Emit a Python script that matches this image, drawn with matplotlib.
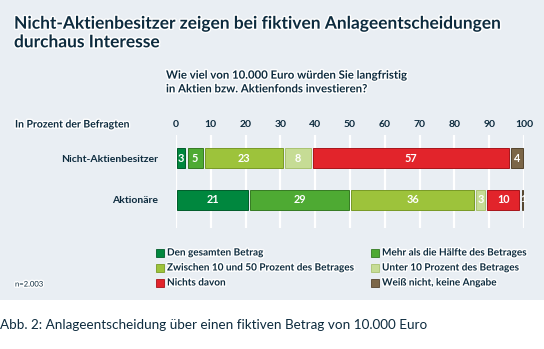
import matplotlib.pyplot as plt
import matplotlib.patheffects as pe
from matplotlib.patches import Rectangle

# Antworten in Prozent je Gruppe
gruppen = ["Nicht-Aktienbesitzer", "Aktionäre"]
kategorien = ["Den gesamten Betrag", "Mehr als die Hälfte des Betrages",
              "Zwischen 10 und 50 Prozent des Betrages", "Unter 10 Prozent des Betrages",
              "Nichts davon", "Weiß nicht, keine Angabe"]
nicht_aktienbesitzer = [3, 5, 23, 8, 57, 4]
aktionaere = [21, 29, 36, 3, 10, 1]
werte = [nicht_aktienbesitzer, aktionaere]

farben = ['#00873e', '#4eaa33', '#9dc33b', '#c6dc95', '#e2242b', '#7b6648']
kanten = ['#005c2a', '#357a22', '#789a25', '#a9c270', '#a8141a', '#54432c']
navy = '#0d2b3e'
halo = [pe.withStroke(linewidth=2, foreground='white')]

plt.rcParams['font.family'] = ['Lato', 'DejaVu Sans']

fig = plt.figure(figsize=(5.44, 3.49), dpi=100)
fig.patch.set_facecolor('white')
fig.patches.append(Rectangle((0, 1 - 300 / 349), 1, 300 / 349, transform=fig.transFigure,
                             facecolor='#e9eef3', edgecolor='none', zorder=-10))

ax = fig.add_axes([176 / 544, 1 - 228 / 349, 348 / 544, 93 / 349])
ax.set_facecolor('none')
ax.set_xlim(0, 100)
ax.set_ylim(1.667, -0.548)
for s in ax.spines.values():
    s.set_visible(False)

for x in range(0, 101, 10):
    ax.axvline(x, color='white', lw=1.6, zorder=0)

luecke = 0.35
for i, reihe in enumerate(werte):
    start = 0
    for j, v in enumerate(reihe):
        ax.barh(i, v - 2 * luecke, left=start + luecke, height=0.48,
                color=farben[j], edgecolor=kanten[j], linewidth=0.7, zorder=2)
        mitte = start + v / 2
        txt = str(v)
        if v == 1:
            ax.text(start + v - 0.1, i, txt, color='white', fontsize=7.5, fontweight='bold',
                    ha='center', va='center', zorder=3, clip_on=False)
        else:
            ax.text(mitte, i, txt, color='white', fontsize=7.8, fontweight='bold',
                    ha='center', va='center', zorder=3)
        start += v

ax.xaxis.tick_top()
ax.set_xticks(range(0, 101, 10))
ax.set_xticklabels([str(x) for x in range(0, 101, 10)], fontsize=7.5,
                   fontweight='bold', color=navy)
ax.tick_params(axis='x', length=0, pad=4)
ax.set_yticks([0, 1])
ax.set_yticklabels(gruppen, fontsize=7.5, color=navy, fontweight='bold')
ax.tick_params(axis='y', length=0, pad=13)

# Überschriften und Beschriftungen
fig.text(14 / 544, 1 - 33 / 349, "Nicht-Aktienbesitzer zeigen bei fiktiven Anlageentscheidungen\ndurchaus Interesse",
         fontsize=12.5, fontweight='bold', color=navy, va='center', ha='left',
         linespacing=1.2, path_effects=halo)
fig.text(166 / 544, 1 - 82 / 349, "Wie viel von 10.000 Euro würden Sie langfristig\nin Aktien bzw. Aktienfonds investieren?",
         fontsize=8.2, fontweight='bold', color=navy, va='center', ha='left',
         linespacing=1.3, path_effects=halo)
fig.text(15 / 544, 1 - 125 / 349, "In Prozent der Befragten", fontsize=7.5,
         fontweight='bold', color=navy, va='center', ha='left', path_effects=halo)
fig.text(15 / 544, 1 - 284 / 349, "n=2.003", fontsize=5.5, color=navy,
         va='center', ha='left', path_effects=halo)

# Legende in zwei Spalten
spalten_x = [160, 375]
zeilen_y = [253, 268, 283]
for k, name in enumerate(kategorien):
    x = spalten_x[k % 2]
    y = zeilen_y[k // 2]
    fig.patches.append(Rectangle(((x - 4) / 544, 1 - (y + 4) / 349), 8 / 544, 8 / 349,
                                 transform=fig.transFigure, facecolor=farben[k],
                                 edgecolor=kanten[k], linewidth=0.6))
    fig.text((x + 7) / 544, 1 - y / 349, name, fontsize=7.2, fontweight='bold',
             color=navy, va='center', ha='left', path_effects=halo)

fig.text(0 / 544, 1 - 325 / 349, "Abb. 2: Anlageentscheidung über einen fiktiven Betrag von 10.000 Euro",
         fontsize=9.7, color=navy, va='center', ha='left')

fig.savefig('out.png', dpi=100, facecolor=fig.get_facecolor())
